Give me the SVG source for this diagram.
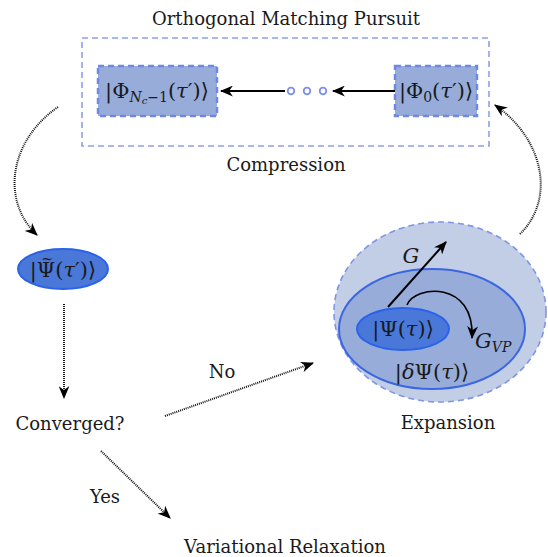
<svg xmlns="http://www.w3.org/2000/svg" width="548" height="557" viewBox="0 0 548 557">
<style>
text{font-family:"DejaVu Serif","Liberation Serif",serif;font-size:18px;fill:#1a1a1a}
.m{font-size:21px}
.i{font-style:italic}
.sub{font-size:14px}
.box{fill:#97acd9;stroke:#6f88e6;stroke-width:2.5;stroke-dasharray:6 4}
.frame{fill:none;stroke:#8ca0e8;stroke-width:1.6;stroke-dasharray:6 4}
.solid{fill:none;stroke:#000;stroke-width:2}
.thin{fill:none;stroke:#000;stroke-width:1.6}
.dot{fill:none;stroke:#111;stroke-width:2;stroke-dasharray:1 1}
</style>
<defs>
<marker id="ah" viewBox="0 0 12 10" refX="11" refY="5" markerWidth="13" markerHeight="11" markerUnits="userSpaceOnUse" orient="auto">
<path d="M0,0 L12,5 L0,10 L3.5,5 z" fill="#000"/>
</marker>
</defs>

<g id="omp">
<text x="286" y="25" text-anchor="middle">Orthogonal Matching Pursuit</text>
<rect class="frame" x="82" y="38" width="407" height="108"/>
<text x="286" y="171" text-anchor="middle">Compression</text>
</g>

<g id="phiN">
<rect class="box" x="98" y="66" width="119" height="50"/>
<text class="m" x="157" y="98" text-anchor="middle">|Φ<tspan class="sub i" dy="4">N</tspan><tspan class="i" font-size="10" dy="2">c</tspan><tspan class="sub" dy="-2">−1</tspan><tspan dy="-4">(</tspan><tspan class="i">τ</tspan>′)⟩</text>
</g>

<g id="phi0">
<rect class="box" x="395" y="66" width="82" height="50"/>
<text class="m" x="436" y="98" text-anchor="middle">|Φ<tspan class="sub" dy="4">0</tspan><tspan dy="-4">(</tspan><tspan class="i">τ</tspan>′)⟩</text>
</g>

<g id="dots" fill="none" stroke="#7b90ea" stroke-width="1.8">
<circle cx="291" cy="91" r="3.3"/>
<circle cx="307" cy="91" r="3.3"/>
<circle cx="323" cy="91" r="3.3"/>
</g>

<g id="psitilde">
<ellipse cx="63" cy="269" rx="45" ry="20" fill="#4a78d8" stroke="#2b62ea" stroke-width="2"/>
<text class="m" x="63" y="277" text-anchor="middle">|Ψ<tspan font-size="14px" dx="-14" dy="-13">~</tspan><tspan dx="2.3" dy="13">(</tspan><tspan class="i">τ</tspan>′)⟩</text>
</g>

<g id="converged">
<text x="70" y="430" text-anchor="middle">Converged?</text>
</g>

<g id="relax">
<text x="285" y="553" text-anchor="middle">Variational Relaxation</text>
</g>

<g id="expansion">
<ellipse cx="440" cy="312" rx="106" ry="90" fill="#c2cde6" stroke="#7f94e6" stroke-width="1.6" stroke-dasharray="6 4"/>
<ellipse cx="432" cy="329" rx="93" ry="60" fill="#97acd9" stroke="#3a66e0" stroke-width="2"/>
<ellipse cx="403" cy="329" rx="46" ry="21" fill="#4a78d8" stroke="#2b62ea" stroke-width="2"/>
<text class="m" x="403" y="336" text-anchor="middle">|Ψ(<tspan class="i">τ</tspan>)⟩</text>
<text class="m" x="432" y="379" text-anchor="middle">|<tspan class="i">δ</tspan>Ψ(<tspan class="i">τ</tspan>)⟩</text>
<text class="m i" x="411" y="263" text-anchor="middle">G</text>
<text class="m i" x="475" y="348">G<tspan class="sub" dy="4">VP</tspan></text>
<text x="448" y="429" text-anchor="middle">Expansion</text>
</g>

<g id="connectors">
<line class="solid" x1="395" y1="91" x2="333" y2="91" marker-end="url(#ah)"/>
<line class="solid" x1="285" y1="91" x2="221" y2="91" marker-end="url(#ah)"/>
<line class="solid" x1="388" y1="307" x2="446" y2="242" marker-end="url(#ah)"/>
<path class="thin" d="M407,305 C415,285 475,280 472,338" marker-end="url(#ah)"/>
<path class="dot" d="M58,107 C10,140 0,200 37,235" marker-end="url(#ah)"/>
<line class="dot" x1="64" y1="304" x2="64" y2="398" marker-end="url(#ah)"/>
<line class="dot" x1="165" y1="416" x2="313" y2="363" marker-end="url(#ah)"/>
<line class="dot" x1="101" y1="451" x2="170" y2="518" marker-end="url(#ah)"/>
<path class="dot" d="M520,234 C555,200 545,140 495,105" marker-end="url(#ah)"/>
<text x="222" y="378" text-anchor="middle">No</text>
<text x="105" y="503" text-anchor="middle">Yes</text>
</g>
</svg>
